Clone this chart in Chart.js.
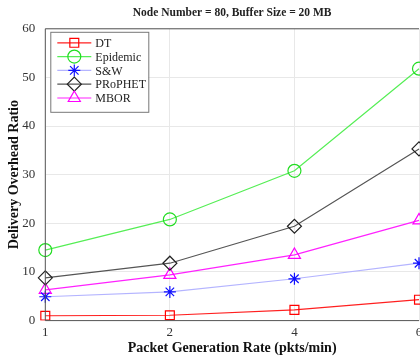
<!DOCTYPE html>
<html>
<head>
<meta charset="utf-8">
<script src="https://cdn.jsdelivr.net/npm/chart.js@4.4.0/dist/chart.umd.min.js"></script>
<style>
  html, body { margin: 0; padding: 0; background: #fff; overflow: hidden; }
  #wrap { width: 440px; height: 361px; }
</style>
</head>
<body>
<div id="wrap"><canvas id="overhead-chart"></canvas></div>
<script>
const rates = ["1", "2", "4", "6"];
const dtValues = [1.0, 1.1, 2.2, 4.3];
const epidemicValues = [14.5, 20.8, 30.8, 51.8];
const swValues = [4.9, 5.9, 8.6, 11.8];
const prophetValues = [8.8, 11.8, 19.4, 35.3];
const mborValues = [6.3, 9.4, 13.5, 20.6];
const yTicks = [0, 10, 20, 30, 40, 50, 60];

const serif = "'Liberation Serif', 'Times New Roman', serif";

function series(label, data, line, marker, style, radius) {
  return {
    label: label,
    data: data,
    borderColor: line,
    borderWidth: 1.2,
    pointStyle: style,
    pointRadius: radius,
    pointBorderColor: marker,
    pointBackgroundColor: "rgba(0,0,0,0)",
    pointBorderWidth: 1.2,
    tension: 0,
    fill: false,
  };
}

// legend drawn inside the plot, top-left
const boxLegend = {
  id: "boxLegend",
  afterDraw(chart) {
    const c = chart.ctx;
    const area = chart.chartArea;
    const x0 = area.left + 5, y0 = area.top + 3;
    c.save();
    c.fillStyle = "#fff";
    c.fillRect(x0, y0, 98, 80);
    c.strokeStyle = "#777";
    c.lineWidth = 1;
    c.strokeRect(x0 + 0.5, y0 + 0.5, 98, 80);
    chart.data.datasets.forEach((ds, i) => {
      const y = y0 + 11 + i * 13.8;
      c.strokeStyle = ds.borderColor;
      c.lineWidth = ds.borderWidth;
      c.beginPath();
      c.moveTo(x0 + 7, y);
      c.lineTo(x0 + 41, y);
      c.stroke();
      c.strokeStyle = ds.pointBorderColor;
      c.fillStyle = "rgba(0,0,0,0)";
      c.lineWidth = ds.pointBorderWidth;
      Chart.helpers.drawPoint(c, { pointStyle: ds.pointStyle, radius: ds.pointRadius, borderWidth: ds.pointBorderWidth, rotation: 0 }, x0 + 24, y);
      c.fillStyle = "#222";
      c.font = "12px " + serif;
      c.textBaseline = "middle";
      c.fillText(ds.label, x0 + 45, y + 1);
    });
    c.restore();
  },
};

const frame = {
  id: "frame",
  afterDatasetsDraw(chart) {
    const c = chart.ctx;
    const a = chart.chartArea;
    c.save();
    c.strokeStyle = "#555";
    c.lineWidth = 1;
    c.beginPath();
    c.moveTo(a.left, a.top);
    c.lineTo(a.right, a.top);
    c.moveTo(a.left, a.top);
    c.lineTo(a.left, a.bottom);
    c.lineTo(a.right, a.bottom);
    c.stroke();
    c.restore();
  },
};

new Chart(document.getElementById("overhead-chart"), {
  type: "line",
  data: {
    labels: rates,
    datasets: [
      series("DT", dtValues, "#ff2020", "#ff0000", "rect", 6.3),
      series("Epidemic", epidemicValues, "#55ee55", "#22dd22", "circle", 6.5),
      series("S&W", swValues, "#b4b4ff", "#1010ff", "star", 6),
      series("PRoPHET", prophetValues, "#555555", "#222222", "rectRot", 7),
      series("MBOR", mborValues, "#ff22ff", "#ff00ff", "triangle", 7),
    ],
  },
  options: {
    responsive: true,
    maintainAspectRatio: false,
    animation: false,
    layout: { padding: { top: 2, right: 21, left: 2, bottom: 4 } },
    scales: {
      x: {
        offset: false,
        grid: { color: "#e8e8e8", drawTicks: false },
        border: { display: false },
        ticks: { color: "#333", font: { family: serif, size: 13 }, padding: 4 },
        title: {
          display: true,
          text: "Packet Generation Rate (pkts/min)",
          color: "#111",
          font: { family: serif, size: 14, weight: "bold" },
          padding: { top: -4, bottom: 0 },
        },
      },
      y: {
        min: 0,
        max: 60,
        afterBuildTicks: (axis) => {
          axis.ticks = yTicks.map((v) => ({ value: v }));
        },
        grid: { color: "#e8e8e8", drawTicks: false },
        border: { display: false },
        ticks: { color: "#333", font: { family: serif, size: 13 }, padding: 10 },
        title: {
          display: true,
          text: "Delivery Overhead Ratio",
          color: "#111",
          font: { family: serif, size: 14, weight: "bold" },
          padding: { top: 4, bottom: -10.5 },
        },
      },
    },
    plugins: {
      legend: { display: false },
      tooltip: { enabled: false },
      title: {
        display: true,
        fullSize: false,
        text: "Node Number = 80, Buffer Size = 20 MB",
        color: "#222",
        font: { family: serif, size: 11.5, weight: "bold" },
        padding: { top: 4, bottom: 9 },
      },
    },
  },
  plugins: [frame, boxLegend],
});
</script>
</body>
</html>
